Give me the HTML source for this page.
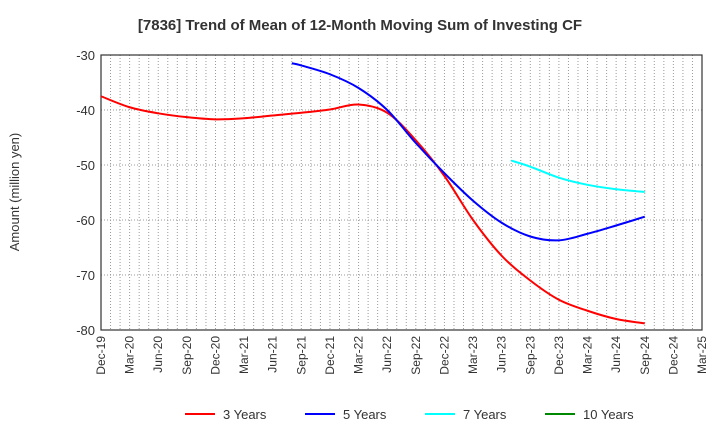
<!DOCTYPE html>
<html><head><meta charset="utf-8"><style>body{margin:0;background:#fff}svg text{font-family:"Liberation Sans",sans-serif}</style></head>
<body>
<svg id="c" width="720" height="440"></svg>
<script>
const categories=["Dec-19","Mar-20","Jun-20","Sep-20","Dec-20","Mar-21","Jun-21","Sep-21","Dec-21","Mar-22","Jun-22","Sep-22","Dec-22","Mar-23","Jun-23","Sep-23","Dec-23","Mar-24","Jun-24","Sep-24","Dec-24","Mar-25"];
const yTicks=[-30,-40,-50,-60,-70,-80];
// month index since Dec-19
const s3Months=[0,3,6,9,12,15,18,21,24,27,30,33,36,39,42,45,48,51,54,57];
const s3=[-37.5,-39.5,-40.6,-41.3,-41.7,-41.5,-41.0,-40.5,-39.9,-39.0,-40.5,-45.5,-52,-60,-66.5,-71,-74.5,-76.5,-78,-78.8];
const s5Months=[20,21,24,27,30,33,36,39,42,45,48,51,54,57];
const s5=[-31.5,-31.9,-33.5,-36,-40,-46,-51.5,-56.5,-60.5,-63,-63.7,-62.5,-61,-59.4];
const s7Months=[43,45,48,51,54,57];
const s7=[-49.2,-50.3,-52.3,-53.6,-54.4,-54.9];
const s10Months=[];
const s10=[];
const NS="http://www.w3.org/2000/svg",svg=document.getElementById('c');
const L=101,R=702,T=55,B=330;
const xm=m=>L+m*(R-L)/63, x=i=>xm(i*3), y=v=>T+(-30-v)*(B-T)/50;
function el(t,a,p){const e=document.createElementNS(NS,t);for(const k in a)e.setAttribute(k,a[k]);(p||svg).appendChild(e);return e;}
const t=el('text',{x:360,y:30,'text-anchor':'middle','font-size':15,'font-weight':'bold',fill:'#333'});t.textContent="[7836]  Trend of Mean of 12-Month Moving Sum of Investing CF";


for(let m=1;m<63;m++){const g=el('line',{x1:xm(m),x2:xm(m),y1:T,y2:B,stroke:'#999','stroke-dasharray':'1,2','stroke-width':1});

}
yTicks.forEach(v=>{const g=el('line',{x1:L,x2:R,y1:y(v),y2:y(v),stroke:'#999','stroke-dasharray':'1,2'});


const tx=el('text',{x:L-6,y:y(v)+5,'text-anchor':'end','font-size':13,fill:'#333'});tx.textContent=v;

});
const fr=el('rect',{x:L,y:T,width:R-L,height:B-T,fill:'none',stroke:'#333','stroke-width':1.2});


categories.forEach((c,i)=>{const tx=el('text',{transform:`translate(${x(i)+4},${B+6}) rotate(-90)`,'text-anchor':'end','font-size':12,fill:'#333'});tx.textContent=c;

});
const yt=el('text',{transform:'translate(19,192) rotate(-90)','text-anchor':'middle','font-size':13,fill:'#333'});yt.textContent="Amount (million yen)";


function path(months,data,color,name){const p=data.map((v,i)=>[xm(months[i]),y(v)]);if(p.length<2)return;
let d=`M${p[0][0]},${p[0][1]}`;for(let i=0;i<p.length-1;i++){const p0=p[i-1]||p[i],p1=p[i],p2=p[i+1],p3=p[i+2]||p2;
d+=` C${p1[0]+(p2[0]-p0[0])/6},${p1[1]+(p2[1]-p0[1])/6} ${p2[0]-(p3[0]-p1[0])/6},${p2[1]-(p3[1]-p1[1])/6} ${p2[0]},${p2[1]}`;}
const e=el('path',{d,fill:'none',stroke:color,'stroke-width':2});

}
path(s3Months,s3,'#f00','line-3-years');path(s5Months,s5,'#00f','line-5-years');path(s7Months,s7,'#0ff','line-7-years');path(s10Months,s10,'#080','line-10-years');
[["3 Years","#f00",185],["5 Years","#00f",305],["7 Years","#0ff",425],["10 Years","#080",545]].forEach(([n,c,lx])=>{
const g=el('g',{});


el('line',{x1:lx,x2:lx+30,y1:414,y2:414,stroke:c,'stroke-width':2},g);
const tx=el('text',{x:lx+38,y:419,'font-size':13,fill:'#333'},g);tx.textContent=n;});
</script>
</body></html>
